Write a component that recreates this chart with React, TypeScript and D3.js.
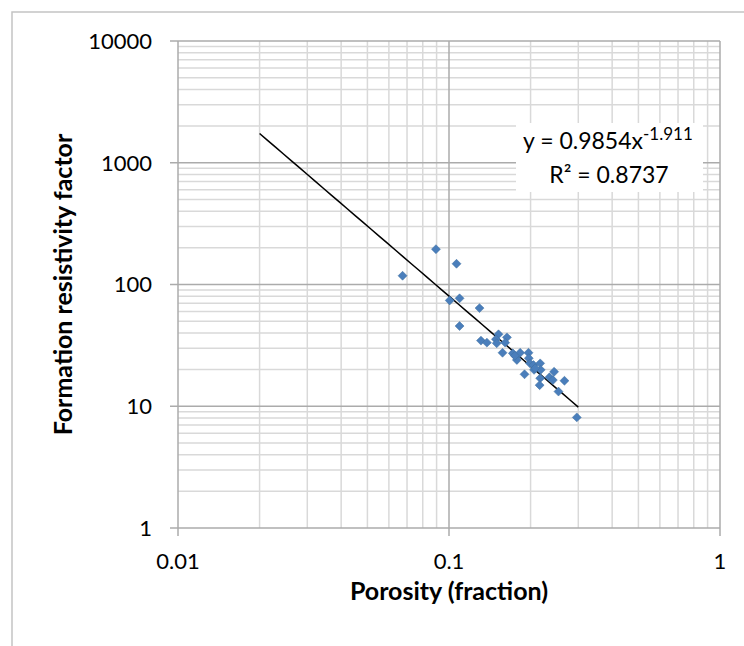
import React from "react";
import * as d3 from "d3";

const porosity = [0.0674, 0.0895, 0.1066, 0.1006, 0.1094, 0.1296, 0.1094, 0.1312, 0.138, 0.1523, 0.149, 0.150, 0.1636, 0.1612, 0.1576, 0.172, 0.177, 0.178, 0.183, 0.19, 0.1965, 0.197, 0.199, 0.205, 0.206, 0.217, 0.218, 0.217, 0.216, 0.2348, 0.2417, 0.2443, 0.2535, 0.2667, 0.2962, 0.175, 0.208];
const formationFactor = [118, 195, 148, 74, 77, 64, 45.6, 34.6, 33.3, 39, 35.5, 32.9, 36.8, 33.3, 27.5, 27.2, 25.5, 24.0, 27.5, 18.3, 27.5, 24.8, 22.5, 21.8, 19.9, 22.5, 19.9, 17.0, 14.9, 17.3, 16.4, 19.2, 13.2, 16.2, 8.1, 26.0, 20.5];

const xTicks = [0.01, 0.1, 1];
const xTickLabels = ["0.01", "0.1", "1"];
const yTicks = [1, 10, 100, 1000, 10000];
const yTickLabels = ["1", "10", "100", "1000", "10000"];

const fitA = 0.9854;
const fitB = -1.911;
const fitRange = [0.02, 0.3];
const r2Label = "0.8737";

const FONT = "Lato, 'Open Sans', sans-serif";

export default function App() {
  const left = 178, right = 720, top = 41, bottom = 528;
  const x = d3.scaleLog().domain([0.01, 1]).range([left, right]);
  const y = d3.scaleLog().domain([1, 10000]).range([bottom, top]);

  const minorX: number[] = [];
  for (let d = 0.01; d < 1 - 1e-9; d *= 10) for (let k = 2; k <= 9; k++) minorX.push(d * k);
  const minorY: number[] = [];
  for (let d = 1; d < 10000 - 1e-9; d *= 10) for (let k = 2; k <= 9; k++) minorY.push(d * k);

  const fitPts = d3.range(0, 41).map((i) => {
    const xv = fitRange[0] * Math.pow(fitRange[1] / fitRange[0], i / 40);
    return [xv, fitA * Math.pow(xv, fitB)] as [number, number];
  });
  const line = d3.line<[number, number]>().x((d) => x(d[0])).y((d) => y(d[1]));

  const marker = d3.symbol().type(d3.symbolSquare).size(40)();

  return (
    <svg width={744} height={646} style={{ display: "block", position: "absolute", left: 0, top: 0 }} fontFamily={FONT}>
      <rect x={0} y={0} width={744} height={646} fill="#fff" />
      <rect x={12} y={12} width={760} height={700} fill="#fff" stroke="#c4c4c4" strokeWidth={1.5} />
      {minorY.map((v, i) => (
        <line key={"my" + i} x1={left} x2={right} y1={y(v)} y2={y(v)} stroke="#d9d9d9" strokeWidth={1.5} />
      ))}
      {minorX.map((v, i) => (
        <line key={"mx" + i} x1={x(v)} x2={x(v)} y1={top} y2={bottom} stroke="#d9d9d9" strokeWidth={1.5} />
      ))}
      {yTicks.map((v, i) => (
        <line key={"gy" + i} x1={left} x2={right} y1={y(v)} y2={y(v)} stroke="#ababab" strokeWidth={1.5} />
      ))}
      {xTicks.map((v, i) => (
        <line key={"gx" + i} x1={x(v)} x2={x(v)} y1={top} y2={bottom} stroke="#ababab" strokeWidth={1.5} />
      ))}
      {yTicks.map((v, i) => (
        <g key={"ty" + i}>
          <line x1={left - 8} x2={left} y1={y(v)} y2={y(v)} stroke="#ababab" strokeWidth={1.5} />
          <text x={152} y={y(v)} dy="0.36em" textAnchor="end" fontSize={22} fill="#000">{yTickLabels[i]}</text>
        </g>
      ))}
      {xTicks.map((v, i) => (
        <g key={"tx" + i}>
          <line x1={x(v)} x2={x(v)} y1={bottom} y2={bottom + 8} stroke="#ababab" strokeWidth={1.5} />
          <text x={x(v)} y={569} textAnchor="middle" fontSize={22} fill="#000">{xTickLabels[i]}</text>
        </g>
      ))}
      <path d={line(fitPts) || ""} fill="none" stroke="#000" strokeWidth={1.5} />
      {porosity.map((p, i) => (
        <path key={"p" + i} d={marker || ""} transform={`translate(${x(p)},${y(formationFactor[i])}) rotate(45)`} fill="#4a7ebb" stroke="#41709f" strokeWidth={0.5} />
      ))}
      <rect x={516} y={123} width={187} height={69} fill="#fff" />
      <text x={523} y={149} textAnchor="start" fontSize={23} fill="#000">
        y = 0.9854x<tspan fontSize={17} dy={-9}>{String(fitB)}</tspan>
      </text>
      <text x={609} y={183} textAnchor="middle" fontSize={23} fill="#000">R² = {r2Label}</text>
      <text x={449} y={600} textAnchor="middle" fontSize={25} fontWeight="bold" fill="#000">Porosity (fraction)</text>
      <text transform={`translate(72, ${(136 + 433) / 2}) rotate(-90)`} textAnchor="middle" fontSize={25} fontWeight="bold" fill="#000">Formation resistivity factor</text>
    </svg>
  );
}
